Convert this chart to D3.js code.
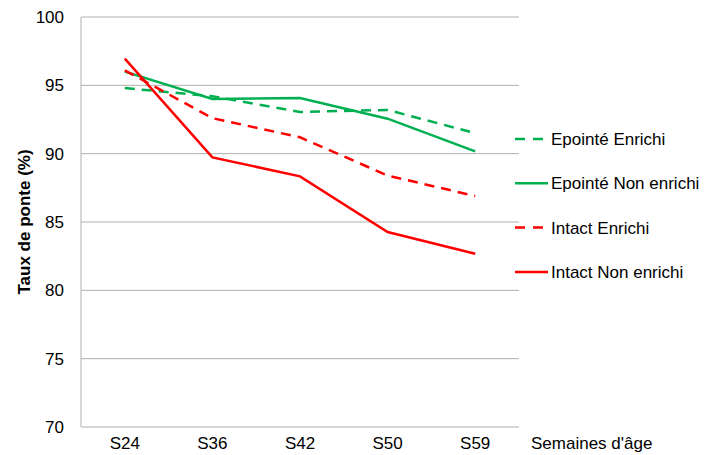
<!DOCTYPE html>
<html>
<head>
<meta charset="utf-8">
<script src="https://cdn.jsdelivr.net/npm/d3@7"></script>
<style>
  body { margin: 0; background: #fff; }
  svg text { font-family: "Liberation Sans", Arial, sans-serif; fill: #000; }
</style>
</head>
<body>
<svg id="chart" width="707" height="455"></svg>
<script>
const weeks = ["S24", "S36", "S42", "S50", "S59"];
const yTicks = [70, 75, 80, 85, 90, 95, 100];

const epointeEnrichi = [94.8, 94.2, 93.05, 93.2, 91.5];
const epointeNonEnrichi = [96.0, 94.0, 94.07, 92.56, 90.17];
const intactEnrichi = [96.1, 92.6, 91.2, 88.4, 86.9];
const intactNonEnrichi = [96.95, 89.73, 88.34, 84.27, 82.68];

const series = [
  { label: "Epointé Enrichi", values: epointeEnrichi, color: "#00B050", dashed: true },
  { label: "Epointé Non enrichi", values: epointeNonEnrichi, color: "#00B050", dashed: false },
  { label: "Intact Enrichi", values: intactEnrichi, color: "#FF0000", dashed: true },
  { label: "Intact Non enrichi", values: intactNonEnrichi, color: "#FF0000", dashed: false },
];

const margin = { top: 17, right: 188, bottom: 28, left: 81 };
const svg = d3.select("#chart");
const width = +svg.attr("width") - margin.left - margin.right;
const height = +svg.attr("height") - margin.top - margin.bottom;

const x = d3.scaleBand().domain(weeks).range([0, width]);
const y = d3.scaleLinear().domain([70, 100]).range([height, 0]);

const g = svg.append("g").attr("transform", `translate(${margin.left},${margin.top})`);

// gridlines
g.append("g")
  .selectAll("line")
  .data(yTicks.slice(1))
  .join("line")
  .attr("x1", 0)
  .attr("x2", width)
  .attr("y1", (d) => y(d))
  .attr("y2", (d) => y(d))
  .attr("stroke", "#B0B0B0")
  .attr("stroke-width", 1);

// axes lines
g.append("line")
  .attr("x1", 0).attr("x2", 0)
  .attr("y1", 0).attr("y2", height)
  .attr("stroke", "#B0B0B0");
g.append("line")
  .attr("x1", 0).attr("x2", width)
  .attr("y1", height).attr("y2", height)
  .attr("stroke", "#B0B0B0");

// y tick labels
g.append("g")
  .selectAll("text")
  .data(yTicks)
  .join("text")
  .attr("x", -17)
  .attr("y", (d) => y(d))
  .attr("dy", "0.36em")
  .attr("text-anchor", "end")
  .attr("font-size", 17)
  .text((d) => d);

// x tick labels
g.append("g")
  .selectAll("text")
  .data(weeks)
  .join("text")
  .attr("x", (d) => x(d) + x.bandwidth() / 2)
  .attr("y", height + 22)
  .attr("text-anchor", "middle")
  .attr("font-size", 17)
  .text((d) => d);

g.append("text")
  .attr("x", width + 12)
  .attr("y", height + 22)
  .attr("font-size", 17)
  .text("Semaines d'âge");

svg.append("text")
  .attr("transform", `translate(30,${margin.top + y(85)}) rotate(-90)`)
  .attr("text-anchor", "middle")
  .attr("font-size", 17)
  .attr("font-weight", "bold")
  .text("Taux de ponte (%)");

const line = d3
  .line()
  .x((d, i) => x(weeks[i]) + x.bandwidth() / 2)
  .y((d) => y(d));

series.forEach((s) => {
  g.append("path")
    .datum(s.values)
    .attr("d", line)
    .attr("fill", "none")
    .attr("stroke", s.color)
    .attr("stroke-width", 2.5)
    .attr("stroke-dasharray", s.dashed ? "10,7" : null);
});

// legend
const legend = svg.append("g").attr("transform", "translate(515,139)");
series.forEach((s, i) => {
  const row = legend.append("g").attr("transform", `translate(0,${i * 44.3})`);
  row.append("line")
    .attr("x1", 0).attr("x2", 33)
    .attr("y1", 0).attr("y2", 0)
    .attr("stroke", s.color)
    .attr("stroke-width", 2.5)
    .attr("stroke-dasharray", s.dashed ? "10,8" : null);
  row.append("text")
    .attr("x", 36)
    .attr("y", 0)
    .attr("dy", "0.36em")
    .attr("font-size", 17)
    .text(s.label);
});
</script>
</body>
</html>
